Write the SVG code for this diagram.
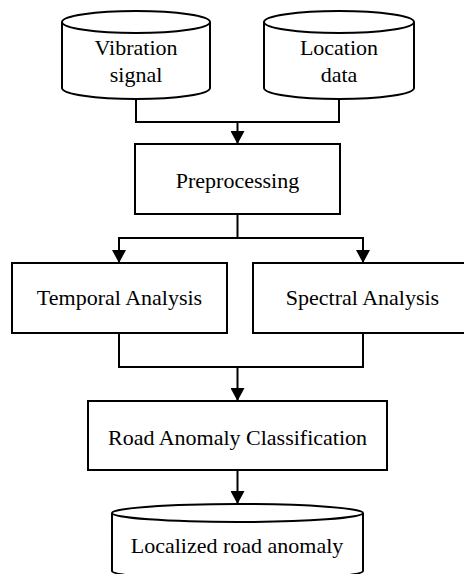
<svg xmlns="http://www.w3.org/2000/svg" width="464" height="574" viewBox="0 0 464 574">
  <defs>
    <marker id="arrow" markerUnits="userSpaceOnUse" markerWidth="16" markerHeight="14" refX="13" refY="7" orient="auto">
      <path d="M0,0 L13,7 L0,14 Z" fill="#000"/>
    </marker>
    <style>
      .shape { fill: #fff; stroke: #000; stroke-width: 2; }
      .line { fill: none; stroke: #000; stroke-width: 2; }
      .label { font-size: 22px; fill: #000; text-anchor: middle; }
    </style>
  </defs>
  <rect width="464" height="574" fill="#fff"/>

  <!-- connectors -->
  <g id="connectors">
    <polyline class="line" points="136,99 136,122 339,122 339,99"/>
    <line class="line" x1="237.5" y1="122" x2="237.5" y2="144" marker-end="url(#arrow)"/>
    <line class="line" x1="237.5" y1="214" x2="237.5" y2="238"/>
    <polyline class="line" points="119,238 363,238"/>
    <line class="line" x1="119" y1="237" x2="119" y2="263" marker-end="url(#arrow)"/>
    <line class="line" x1="363" y1="237" x2="363" y2="263" marker-end="url(#arrow)"/>
    <polyline class="line" points="119,333 119,367 363,367 363,333"/>
    <line class="line" x1="237.5" y1="367" x2="237.5" y2="401" marker-end="url(#arrow)"/>
    <line class="line" x1="237.5" y1="470" x2="237.5" y2="504" marker-end="url(#arrow)"/>
  </g>

  <g font-family="Liberation Serif, Times New Roman, serif">
    <!-- data sources -->
    <g id="vibration-signal">
      <path class="shape" d="M62,22 A74,11 0 0,1 210,22 L210,88 A74,11 0 0,1 62,88 Z"/>
      <path class="line" d="M62,22 A74,11 0 0,0 210,22"/>
      <text class="label" x="136" y="55">Vibration</text>
      <text class="label" x="136" y="82">signal</text>
    </g>
    <g id="location-data">
      <path class="shape" d="M264,22 A75,11 0 0,1 414,22 L414,88 A75,11 0 0,1 264,88 Z"/>
      <path class="line" d="M264,22 A75,11 0 0,0 414,22"/>
      <text class="label" x="339" y="55">Location</text>
      <text class="label" x="339" y="82">data</text>
    </g>

    <!-- processing steps -->
    <g id="preprocessing">
      <rect class="shape" x="135" y="144" width="205" height="70"/>
      <text class="label" x="237.5" y="188">Preprocessing</text>
    </g>
    <g id="temporal-analysis">
      <rect class="shape" x="12" y="263" width="215" height="70"/>
      <text class="label" x="119.5" y="305">Temporal Analysis</text>
    </g>
    <g id="spectral-analysis">
      <rect class="shape" x="253" y="263" width="220" height="70"/>
      <text class="label" x="362.5" y="305">Spectral Analysis</text>
    </g>
    <g id="road-anomaly-classification">
      <rect class="shape" x="88" y="401" width="299" height="69"/>
      <text class="label" x="237.5" y="445">Road Anomaly Classification</text>
    </g>

    <!-- output store -->
    <g id="localized-road-anomaly">
      <path class="shape" d="M112,513 A125.5,9 0 0,1 363,513 L363,571 A125.5,9 0 0,1 112,571 Z"/>
      <path class="line" d="M112,513 A125.5,9 0 0,0 363,513"/>
      <text class="label" x="237" y="553">Localized road anomaly</text>
    </g>
  </g>
</svg>
